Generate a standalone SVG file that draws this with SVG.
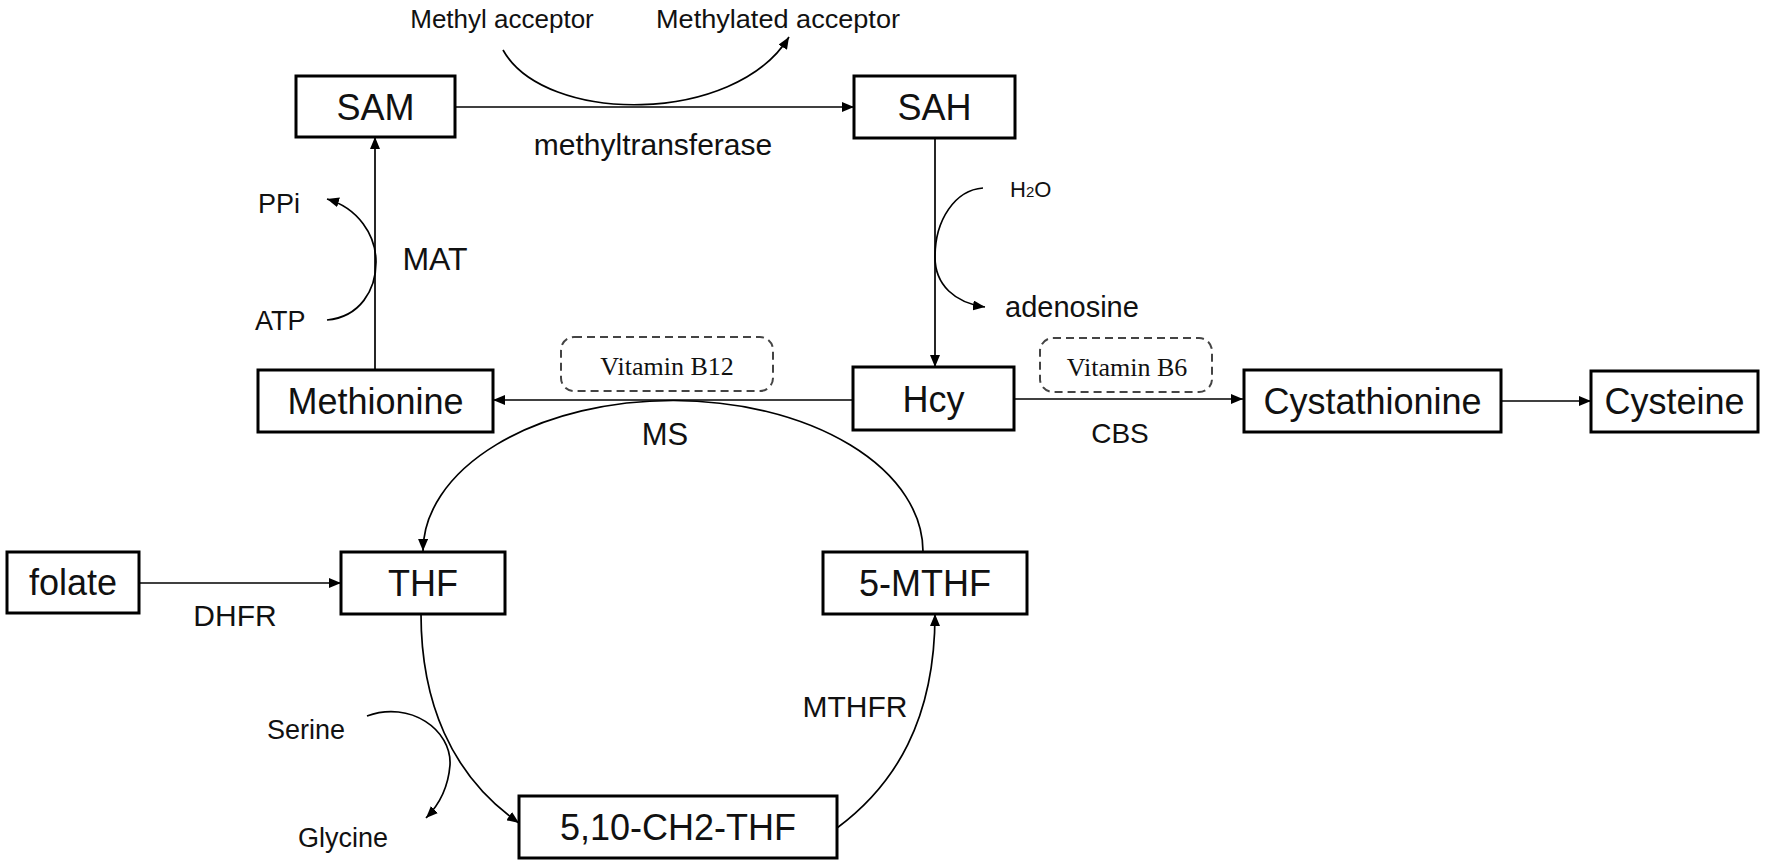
<svg xmlns="http://www.w3.org/2000/svg" width="1772" height="866" viewBox="0 0 1772 866">
<style>
.box{fill:#fff;stroke:#000;stroke-width:3}
.nl{font-family:"Liberation Sans",Arial,sans-serif;font-size:36px;fill:#111;text-anchor:middle}
.lbl{font-family:"Liberation Sans",Arial,sans-serif;fill:#111;text-anchor:middle}
.side{font-family:"Liberation Sans",Arial,sans-serif;fill:#111}
.vit{fill:none;stroke:#444;stroke-width:2;stroke-dasharray:8 5}
.vt{font-family:"Liberation Serif","Times New Roman",serif;font-size:26px;fill:#111;text-anchor:middle}
.c{fill:none;stroke:#000;stroke-width:1.7}
.ca{fill:none;stroke:#000;stroke-width:1.7;marker-end:url(#arr)}
</style>
<defs>
<marker id="arr" viewBox="0 0 12 10" refX="12" refY="5" markerWidth="12" markerHeight="10" markerUnits="userSpaceOnUse" orient="auto">
<path d="M0,0 L12,5 L0,10 z" fill="#000"/>
</marker>
</defs>
<rect width="1772" height="866" fill="#fff"/>

<g id="connectors">
<line class="ca" x1="455" y1="107" x2="854" y2="107"/>
<path class="ca" d="M503,50 C545,125 735,125 789,37"/>
<line class="ca" x1="375" y1="370" x2="375" y2="137"/>
<path class="ca" d="M327,320 C360,317 376,290 376,262 C376,235 358,208 327,199"/>
<line class="ca" x1="935" y1="138" x2="935" y2="367"/>
<path class="ca" d="M983,188 C955,190 935,220 935,257 C935,285 955,303 985,307"/>
<line class="ca" x1="853" y1="400" x2="493" y2="400"/>
<line class="ca" x1="1014" y1="399" x2="1243" y2="399"/>
<line class="ca" x1="1501" y1="401" x2="1591" y2="401"/>
<path class="ca" d="M923,552 A250,151 0 0 0 423,551"/>
<line class="ca" x1="139" y1="583" x2="341" y2="583"/>
<path class="ca" d="M421,614 C421,700 450,775 519,823"/>
<path class="ca" d="M367,716 C410,700 452,730 450,765 C448,790 438,806 426,818"/>
<path class="ca" d="M837,828 C895,785 935,720 935,614"/>
</g>

<g id="labels">
<text class="side" x="502" y="28" font-size="26" text-anchor="middle">Methyl acceptor</text>
<text class="side" x="656" y="28" font-size="26" textLength="244" lengthAdjust="spacingAndGlyphs">Methylated acceptor</text>
<text class="lbl" x="653" y="155" font-size="30">methyltransferase</text>
<text class="side" x="258" y="213" font-size="27">PPi</text>
<text class="side" x="255" y="330" font-size="27">ATP</text>
<text class="lbl" x="435" y="270" font-size="32">MAT</text>
<text class="side" x="1010" y="197" font-size="22">H<tspan font-size="15">2</tspan>O</text>
<text class="side" x="1005" y="317" font-size="29">adenosine</text>
<text class="lbl" x="665" y="445" font-size="31">MS</text>
<text class="lbl" x="1120" y="443" font-size="28">CBS</text>
<text class="lbl" x="235" y="626" font-size="30">DHFR</text>
<text class="lbl" x="855" y="717" font-size="30">MTHFR</text>
<text class="side" x="267" y="739" font-size="27">Serine</text>
<text class="side" x="298" y="847" font-size="27">Glycine</text>
</g>

<g id="vitB12">
<rect class="vit" x="561" y="337" width="212" height="54" rx="13"/>
<text class="vt" x="667" y="375">Vitamin B12</text>
</g>
<g id="vitB6">
<rect class="vit" x="1040" y="338" width="172" height="54" rx="13"/>
<text class="vt" x="1127" y="376">Vitamin B6</text>
</g>

<g id="SAM"><rect class="box" x="296" y="76" width="159" height="61"/><text class="nl" x="375.5" y="119.5">SAM</text></g>
<g id="SAH"><rect class="box" x="854" y="76" width="161" height="62"/><text class="nl" x="934.5" y="120">SAH</text></g>
<g id="Methionine"><rect class="box" x="258" y="370" width="235" height="62"/><text class="nl" x="375.5" y="414">Methionine</text></g>
<g id="Hcy"><rect class="box" x="853" y="367" width="161" height="63"/><text class="nl" x="933.5" y="412">Hcy</text></g>
<g id="Cystathionine"><rect class="box" x="1244" y="370" width="257" height="62"/><text class="nl" x="1372.5" y="414">Cystathionine</text></g>
<g id="Cysteine"><rect class="box" x="1591" y="371" width="167" height="61"/><text class="nl" x="1674.5" y="414">Cysteine</text></g>
<g id="folate"><rect class="box" x="7" y="552" width="132" height="61"/><text class="nl" x="73" y="595">folate</text></g>
<g id="THF"><rect class="box" x="341" y="552" width="164" height="62"/><text class="nl" x="423" y="596">THF</text></g>
<g id="MTHF5"><rect class="box" x="823" y="552" width="204" height="62"/><text class="nl" x="925" y="596">5-MTHF</text></g>
<g id="CH2THF"><rect class="box" x="519" y="796" width="318" height="62"/><text class="nl" x="678" y="840" font-size="37">5,10-CH2-THF</text></g>
</svg>
